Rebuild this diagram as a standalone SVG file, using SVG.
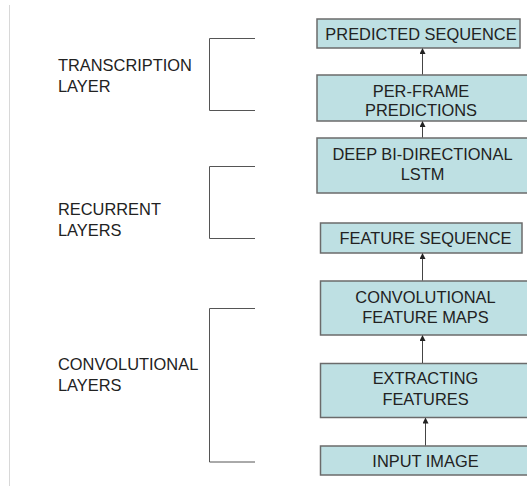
<svg xmlns="http://www.w3.org/2000/svg" width="527" height="486" viewBox="0 0 527 486">
  <defs>
    <marker id="arr" markerWidth="6" markerHeight="6" refX="5" refY="3" orient="auto" markerUnits="userSpaceOnUse">
      <path d="M0,0 L6,3 L0,6 Z" fill="#222"/>
    </marker>
    <style>
      .box { fill: #BEE0E3; stroke: #6b6b6b; stroke-width: 1.5; }
      .t { font-family: "Liberation Sans", Arial, sans-serif; font-size: 16.4px; fill: #222; }
      .c { text-anchor: middle; }
      .br { fill: none; stroke: #555; stroke-width: 1; }
      .conn { stroke: #444; stroke-width: 1; fill: none; marker-end: url(#arr); }
    </style>
  </defs>
  <rect width="527" height="486" fill="#fff"/>
  <line x1="9.5" y1="5" x2="9.5" y2="486" stroke="#d8d8d8" stroke-width="1"/>

  <g id="label-transcription">
    <path class="br" d="M255,38.5 H209.5 V110.5 H255"/>
    <text class="t" x="58" y="71">TRANSCRIPTION</text>
    <text class="t" x="58" y="91.5">LAYER</text>
  </g>
  <g id="label-recurrent">
    <path class="br" d="M255,166.5 H209.5 V238.5 H255"/>
    <text class="t" x="58" y="215">RECURRENT</text>
    <text class="t" x="58" y="235.5">LAYERS</text>
  </g>
  <g id="label-convolutional">
    <path class="br" d="M255,308.5 H209.5 V462 H255"/>
    <text class="t" x="58" y="370">CONVOLUTIONAL</text>
    <text class="t" x="58" y="390.5">LAYERS</text>
  </g>

  <g id="predicted-sequence">
    <rect class="box" x="317" y="19" width="203" height="29"/>
    <text class="t c" x="421" y="40">PREDICTED SEQUENCE</text>
  </g>
  <g id="per-frame">
    <rect class="box" x="317" y="75" width="215" height="46"/>
    <text class="t c" x="421" y="96.5">PER-FRAME</text>
    <text class="t c" x="421" y="115.5">PREDICTIONS</text>
  </g>
  <g id="lstm">
    <rect class="box" x="317" y="138" width="215" height="55"/>
    <text class="t c" x="422.5" y="159.5">DEEP BI-DIRECTIONAL</text>
    <text class="t c" x="422.5" y="180">LSTM</text>
  </g>
  <g id="feature-sequence">
    <rect class="box" x="320.5" y="223" width="201.5" height="30"/>
    <text class="t c" x="425.5" y="243.5">FEATURE SEQUENCE</text>
  </g>
  <g id="conv-maps">
    <rect class="box" x="320.5" y="281" width="212" height="54"/>
    <text class="t c" x="425.5" y="302.5">CONVOLUTIONAL</text>
    <text class="t c" x="425.5" y="322.5">FEATURE MAPS</text>
  </g>
  <g id="extracting">
    <rect class="box" x="320.5" y="363.5" width="212" height="54"/>
    <text class="t c" x="425.5" y="384">EXTRACTING</text>
    <text class="t c" x="425.5" y="405">FEATURES</text>
  </g>
  <g id="input-image">
    <rect class="box" x="320.5" y="446" width="212" height="29"/>
    <text class="t c" x="425.5" y="467">INPUT IMAGE</text>
  </g>

  <g id="connectors">
    <line class="conn" x1="422.5" y1="74.5" x2="422.5" y2="49"/>
    <line class="conn" x1="422.5" y1="137.5" x2="422.5" y2="122"/>
    <line class="conn" x1="422.5" y1="280.5" x2="422.5" y2="254"/>
    <line class="conn" x1="422.5" y1="363" x2="422.5" y2="336"/>
    <line class="conn" x1="425.5" y1="445.5" x2="425.5" y2="418.5"/>
  </g>
</svg>
